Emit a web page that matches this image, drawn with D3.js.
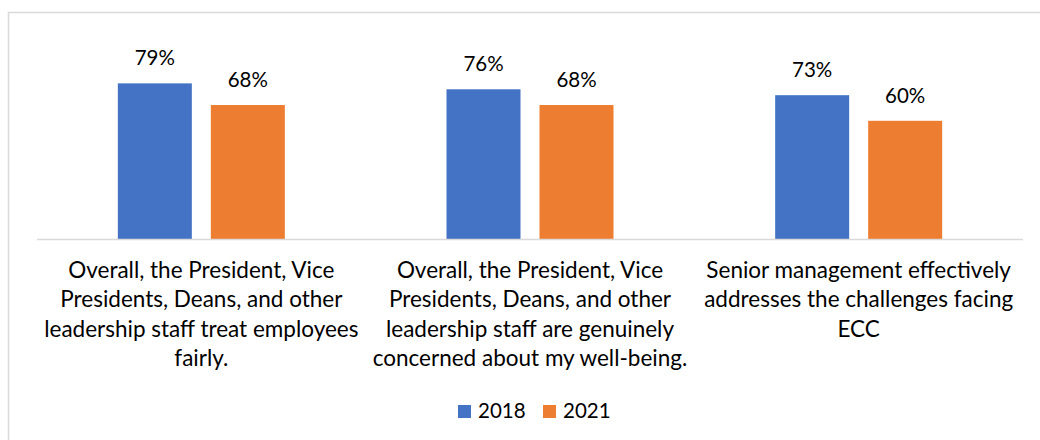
<!DOCTYPE html>
<html>
<head>
<meta charset="utf-8">
<script src="https://cdn.jsdelivr.net/npm/d3@7"></script>
<style>
  body { margin: 0; background: #fff; }
  svg text { font-family: Lato, "Open Sans", sans-serif; fill: #000; }
</style>
</head>
<body>
<div class="chart"></div>
<script>
'use strict';

// Data
var CATEGORIES = [
  ['Overall, the President, Vice', 'Presidents, Deans, and other', 'leadership staff treat employees', 'fairly.'],
  ['Overall, the President, Vice', 'Presidents, Deans, and other', 'leadership staff are genuinely', 'concerned about my well-being.'],
  ['Senior management effectively', 'addresses the challenges facing', 'ECC']
];
var SERIES = ['2018', '2021'];
var VALUES_2018 = [79, 76, 73];
var VALUES_2021 = [68, 68, 60];
var COLORS = ['#4472c4', '#ed7d31'];

var width = 1040, height = 440;
var LABEL_SIZE = 22.5;
var NUMBER_SIZE = 20.5;

var svg = d3.select('.chart').append('svg')
  .attr('width', width)
  .attr('height', height);

// chart border (runs off the right and bottom edges)
svg.append('rect')
  .attr('x', 8.5)
  .attr('y', 12.5)
  .attr('width', 1060)
  .attr('height', 460)
  .style('fill', 'none')
  .style('stroke', '#d9d9d9')
  .style('stroke-width', 1.5);

var plot = { left: 37, right: 1023, base: 239 };

var x0 = d3.scaleBand()
  .domain(d3.range(CATEGORIES.length))
  .range([plot.left, plot.right]);

// bar width 74, gap 19 inside a group
var groupWidth = 167;
var x1 = d3.scaleBand()
  .domain(SERIES)
  .range([0, groupWidth])
  .paddingInner(19 / 167 * 2 / (1 + 19 / 167));

var y = d3.scaleLinear()
  .domain([0, 100])
  .range([plot.base, plot.base - 197]);

var rows = CATEGORIES.map(function(c, i) {
  return { index: i, values: [VALUES_2018[i], VALUES_2021[i]] };
});

var groups = svg.selectAll('g.group')
  .data(rows)
  .enter()
  .append('g')
  .attr('class', 'group')
  .attr('transform', function(d) {
    return 'translate(' + (x0(d.index) + x0.bandwidth() / 2 - groupWidth / 2) + ',0)';
  });

groups.selectAll('rect')
  .data(function(d) {
    return d.values.map(function(v, j) { return { series: SERIES[j], value: v, color: COLORS[j] }; });
  })
  .enter()
  .append('rect')
  .attr('x', function(d) { return x1(d.series); })
  .attr('y', function(d) { return y(d.value); })
  .attr('width', x1.bandwidth())
  .attr('height', function(d) { return y(0) - y(d.value); })
  .style('fill', function(d) { return d.color; });

groups.selectAll('text.value')
  .data(function(d) {
    return d.values.map(function(v, j) { return { series: SERIES[j], value: v }; });
  })
  .enter()
  .append('text')
  .attr('class', 'value')
  .attr('x', function(d) { return x1(d.series) + x1.bandwidth() / 2; })
  .attr('y', function(d) { return y(d.value) - 18; })
  .attr('text-anchor', 'middle')
  .style('font-size', NUMBER_SIZE + 'px')
  .text(function(d) { return d.value + '%'; });

// baseline
svg.append('line')
  .attr('x1', plot.left)
  .attr('x2', plot.right)
  .attr('y1', plot.base + 0.5)
  .attr('y2', plot.base + 0.5)
  .style('stroke', '#d9d9d9')
  .style('stroke-width', 1.5);

// category labels
var labels = svg.selectAll('text.category')
  .data(CATEGORIES)
  .enter()
  .append('text')
  .attr('class', 'category')
  .attr('text-anchor', 'middle')
  .style('font-size', LABEL_SIZE + 'px');

labels.selectAll('tspan')
  .data(function(d, i) { return d.map(function(line) { return { line: line, i: i }; }); })
  .enter()
  .append('tspan')
  .attr('x', function(d) { return x0(d.i) + x0.bandwidth() / 2; })
  .attr('y', function(d, k) { return 278 + k * 29.3; })
  .text(function(d) { return d.line; });

// legend
var legend = svg.append('g').attr('class', 'legend');
var legendX = [458, 543];
SERIES.forEach(function(s, j) {
  legend.append('rect')
    .attr('x', legendX[j])
    .attr('y', 405)
    .attr('width', 13)
    .attr('height', 13)
    .style('fill', COLORS[j]);
  legend.append('text')
    .attr('x', legendX[j] + 20)
    .attr('y', 418)
    .style('font-size', NUMBER_SIZE + 'px')
    .text(s);
});
</script>
</body>
</html>
